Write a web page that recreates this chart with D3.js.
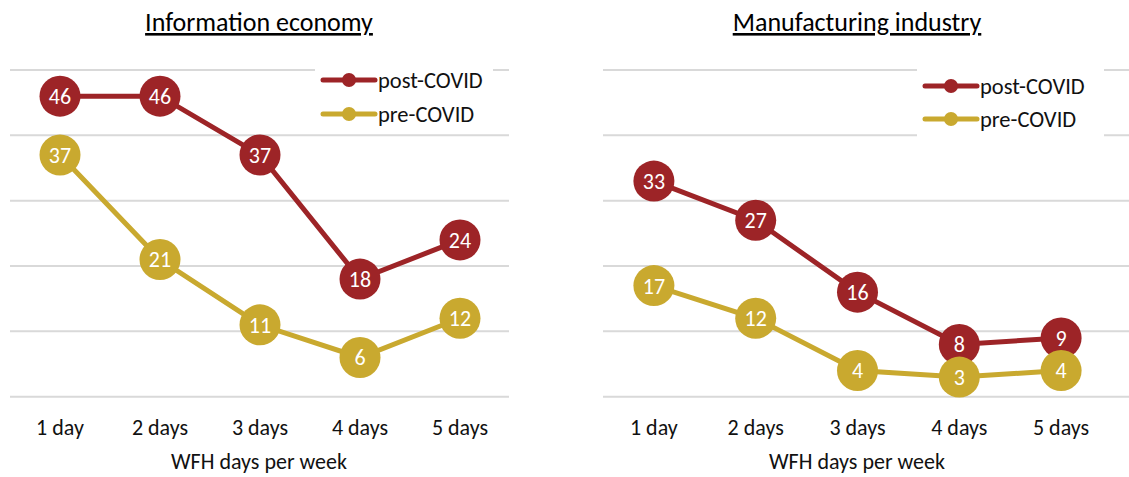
<!DOCTYPE html>
<html>
<head>
<meta charset="utf-8">
<script src="https://cdn.jsdelivr.net/npm/d3@7"></script>
<style>
  body { margin: 0; background: #fff; }
  svg { font-family: Carlito, Calibri, Lato, "Open Sans", sans-serif; }
</style>
</head>
<body>
<svg id="chart" width="1129" height="477"></svg>
<script>
const svg = d3.select("#chart");

// data
const days = ["1 day", "2 days", "3 days", "4 days", "5 days"];
const infoPost = [46, 46, 37, 18, 24];
const infoPre = [37, 21, 11, 6, 12];
const manuPost = [33, 27, 16, 8, 9];
const manuPre = [17, 12, 4, 3, 4];
const yTicks = [0, 10, 20, 30, 40, 50];

const RED = "#9D2427";
const GOLD = "#C9A92F";

function drawPanel(cfg) {
    const g = svg.append("g");
    const x = d3.scaleBand().domain(days).range(cfg.xr);
    const y = d3.scaleLinear().domain([0, 50]).range([396.7, 70]);

    // gridlines
    g.selectAll(".grid").data(yTicks).enter().append("line")
        .attr("x1", cfg.xr[0]).attr("x2", cfg.gridEnd)
        .attr("y1", d => y(d)).attr("y2", d => y(d))
        .attr("stroke", "#d9d9d9").attr("stroke-width", 2);

    // title
    g.append("text")
        .attr("x", cfg.titleX).attr("y", 31)
        .attr("text-anchor", "middle")
        .attr("font-size", 26)
        .attr("text-decoration", "underline")
        .attr("fill", "#000")
        .text(cfg.title);

    // legend (white box hides gridlines)
    const lg = g.append("g");
    lg.append("rect")
        .attr("x", cfg.leg.x - 8).attr("y", 62)
        .attr("width", cfg.leg.w).attr("height", cfg.leg.h)
        .attr("fill", "#fff");
    [[ "post-COVID", RED, cfg.leg.y1 ], [ "pre-COVID", GOLD, cfg.leg.y2 ]].forEach(l => {
        lg.append("line")
            .attr("x1", cfg.leg.x).attr("x2", cfg.leg.x + 52)
            .attr("y1", l[2]).attr("y2", l[2])
            .attr("stroke", l[1]).attr("stroke-width", 5).attr("stroke-linecap", "round");
        lg.append("circle")
            .attr("cx", cfg.leg.x + 26).attr("cy", l[2]).attr("r", 7)
            .attr("fill", l[1]);
        lg.append("text")
            .attr("x", cfg.leg.x + 55).attr("y", l[2])
            .attr("dy", "0.35em")
            .attr("font-size", 22.5)
            .attr("fill", "#111")
            .text(l[0]);
    });

    const line = d3.line()
        .x((d, i) => x(days[i]) + x.bandwidth() / 2)
        .y(d => y(d));

    [[cfg.pre, GOLD], [cfg.post, RED]].forEach(s => {
        g.append("path")
            .datum(s[0])
            .attr("d", line)
            .attr("fill", "none")
            .attr("stroke", s[1])
            .attr("stroke-width", 5);
    });

    [[cfg.post, RED], [cfg.pre, GOLD]].forEach(s => {
        const pts = g.selectAll(null).data(s[0]).enter().append("g")
            .attr("transform", (d, i) => `translate(${x(days[i]) + x.bandwidth() / 2},${y(d)})`);
        pts.append("circle").attr("r", 20.5).attr("fill", s[1]);
        pts.append("text")
            .attr("text-anchor", "middle")
            .attr("dy", "0.36em")
            .attr("font-size", 22)
            .attr("fill", "#fff")
            .text(d => d);
    });

    // x tick labels
    g.selectAll(".tick").data(days).enter().append("text")
        .attr("x", d => x(d) + x.bandwidth() / 2)
        .attr("y", 435)
        .attr("text-anchor", "middle")
        .attr("font-size", 22)
        .attr("fill", "#111")
        .text(d => d);

    g.append("text")
        .attr("x", cfg.titleX).attr("y", 469)
        .attr("text-anchor", "middle")
        .attr("font-size", 22)
        .attr("fill", "#111")
        .text("WFH days per week");
}

drawPanel({
    title: "Information economy", titleX: 259,
    xr: [10, 510], gridEnd: 509,
    post: infoPost, pre: infoPre,
    leg: { x: 323, y1: 80, y2: 114, w: 178, h: 62 }
});

drawPanel({
    title: "Manufacturing industry", titleX: 857,
    xr: [603, 1112], gridEnd: 1129,
    post: manuPost, pre: manuPre,
    leg: { x: 925, y1: 86, y2: 119, w: 187, h: 80 }
});
</script>
</body>
</html>
